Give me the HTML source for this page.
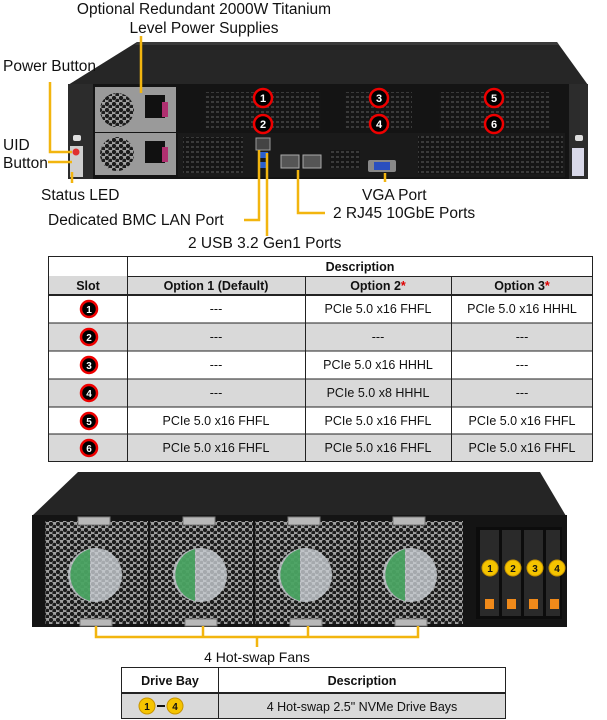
<!DOCTYPE html>
<html><head><meta charset="utf-8"><style>
html,body{margin:0;padding:0;background:#fff;}
body{width:607px;height:720px;position:relative;overflow:hidden;font-family:"Liberation Sans",Arial,sans-serif;}
svg{position:absolute;left:0;top:0;}
</style></head><body>
<svg width="607" height="720" viewBox="0 0 607 720" font-family="Liberation Sans, Arial, sans-serif">
<defs>
<pattern id="mesh" width="7" height="6" patternUnits="userSpaceOnUse">
<rect width="7" height="6" fill="#a0a0a0"/>
<circle cx="2" cy="2" r="2.2" fill="#1c1c1c"/>
<circle cx="5.5" cy="5" r="2.2" fill="#1c1c1c"/>
</pattern>
<pattern id="grill" width="5" height="5" patternUnits="userSpaceOnUse">
<rect width="5" height="5" fill="#151515"/>
<rect x="1" y="1" width="3" height="2" fill="#3a3a3a"/>
</pattern>
</defs>

<!-- TOP TITLE -->
<text x="204" y="14" font-size="15.5" text-anchor="middle" fill="#111">Optional Redundant 2000W Titanium</text>
<text x="204" y="33" font-size="15.5" text-anchor="middle" fill="#111">Level Power Supplies</text>

<!-- top chassis -->
<polygon points="137,42 557,42 588,85 68,85" fill="#262626"/>
<polygon points="137,42 557,42 559,45 135,45" fill="#3a3a3a"/>
<rect x="68" y="84" width="520" height="95" fill="#141414"/>
<rect x="68" y="84" width="25" height="95" fill="#2c2c2c"/>
<rect x="569" y="84" width="19" height="95" fill="#2c2c2c"/>
<rect x="73" y="135" width="8" height="6" rx="2" fill="#ddd"/>
<rect x="575" y="135" width="8" height="6" rx="2" fill="#ddd"/>
<rect x="70" y="146" width="13" height="31" fill="#cfcfcf"/>
<circle cx="76" cy="152" r="3.5" fill="#e03030"/>
<rect x="572" y="148" width="12" height="28" fill="#d8d8e8"/>
<!-- PSUs -->
<rect x="95" y="87" width="81" height="45" fill="#9a9a9a"/>
<rect x="95" y="133" width="81" height="42" fill="#9a9a9a"/>
<circle cx="117" cy="110" r="17" fill="url(#mesh)"/>
<circle cx="117" cy="154" r="17" fill="url(#mesh)"/>
<rect x="145" y="95" width="20" height="23" fill="#111"/>
<rect x="145" y="141" width="20" height="22" fill="#111"/>
<rect x="162" y="102" width="6" height="15" fill="#b03070"/>
<rect x="162" y="147" width="6" height="15" fill="#b03070"/>
<!-- slot brackets -->
<rect x="205" y="92" width="116" height="38" fill="url(#grill)"/>
<rect x="345" y="92" width="67" height="38" fill="url(#grill)"/>
<rect x="439" y="92" width="111" height="38" fill="url(#grill)"/>
<!-- io panel -->
<rect x="178" y="133" width="387" height="44" fill="#1a1a1a"/>
<rect x="183" y="137" width="60" height="36" fill="url(#grill)"/>
<rect x="418" y="136" width="145" height="38" fill="url(#grill)"/>
<rect x="330" y="150" width="30" height="18" fill="url(#grill)"/>
<rect x="256" y="138" width="14" height="12" fill="#444" stroke="#999"/>
<rect x="258" y="152" width="10" height="6" fill="#2a5fcf"/>
<rect x="258" y="162" width="10" height="6" fill="#2a5fcf"/>
<rect x="281" y="155" width="18" height="13" fill="#555" stroke="#aaa"/>
<rect x="303" y="155" width="18" height="13" fill="#555" stroke="#aaa"/>
<rect x="368" y="160" width="28" height="12" rx="2" fill="#888"/>
<rect x="374" y="162" width="16" height="8" fill="#2a4fbf"/>
<!-- red circles -->
<g font-size="11" font-weight="bold" fill="#fff" text-anchor="middle">
<circle cx="263" cy="98" r="9" fill="#000" stroke="#e00" stroke-width="2.5"/><text x="263" y="102">1</text>
<circle cx="263" cy="124" r="9" fill="#000" stroke="#e00" stroke-width="2.5"/><text x="263" y="128">2</text>
<circle cx="379" cy="98" r="9" fill="#000" stroke="#e00" stroke-width="2.5"/><text x="379" y="102">3</text>
<circle cx="379" cy="124" r="9" fill="#000" stroke="#e00" stroke-width="2.5"/><text x="379" y="128">4</text>
<circle cx="494" cy="98" r="9" fill="#000" stroke="#e00" stroke-width="2.5"/><text x="494" y="102">5</text>
<circle cx="494" cy="124" r="9" fill="#000" stroke="#e00" stroke-width="2.5"/><text x="494" y="128">6</text>
</g>
<!-- leaders -->
<g stroke="#f2b50f" stroke-width="2.5" fill="none">
<polyline points="141,36 141,93"/>
<polyline points="50,82 50,152 72,152"/>
<polyline points="48,162 72,162"/>
<polyline points="72,172 72,183"/>
<polyline points="244,220 259,220 259,150"/>
<polyline points="267,153 267,236"/>
<polyline points="298,170 298,213 325,213"/>
<polyline points="385,173 385,182"/>
</g>
<g font-size="15.5" fill="#111">
<text x="3" y="71">Power Button</text>
<text x="3" y="150">UID</text>
<text x="3" y="168">Button</text>
<text x="41" y="200">Status LED</text>
<text x="48" y="225">Dedicated BMC LAN Port</text>
<text x="188" y="248">2 USB 3.2 Gen1 Ports</text>
<text x="362" y="200">VGA Port</text>
<text x="333" y="218">2 RJ45 10GbE Ports</text>
</g>

<!-- slot table -->
<g font-size="12.5" fill="#111">
<rect x="48" y="276" width="545" height="19" fill="#d9d9d9"/>
<rect x="48" y="323" width="545" height="28" fill="#d9d9d9"/>
<rect x="48" y="379" width="545" height="28" fill="#d9d9d9"/>
<rect x="48" y="434" width="545" height="28" fill="#d9d9d9"/>
<g stroke="#222" stroke-width="1" fill="none">
<rect x="48.5" y="256.5" width="544" height="205"/>
<line x1="127.5" y1="256" x2="127.5" y2="462"/>
<line x1="305.5" y1="276" x2="305.5" y2="462"/>
<line x1="451.5" y1="276" x2="451.5" y2="462"/>
<line x1="127" y1="276.5" x2="593" y2="276.5"/>
<line x1="48" y1="295" x2="593" y2="295" stroke-width="2"/>
<line x1="48" y1="323" x2="593" y2="323"/>
<line x1="48" y1="351" x2="593" y2="351"/>
<line x1="48" y1="379" x2="593" y2="379"/>
<line x1="48" y1="407" x2="593" y2="407"/>
<line x1="48" y1="434" x2="593" y2="434"/>
</g>
<g font-weight="bold" text-anchor="middle">
<text x="360" y="271">Description</text>
<text x="88" y="290">Slot</text>
<text x="216" y="290">Option 1 (Default)</text>
<text x="378" y="290">Option 2<tspan fill="#d00">*</tspan></text>
<text x="522" y="290">Option 3<tspan fill="#d00">*</tspan></text>
</g>
<g text-anchor="middle">
<text x="216" y="313">---</text><text x="378" y="313">PCIe 5.0 x16 FHFL</text><text x="522" y="313">PCIe 5.0 x16 HHHL</text>
<text x="216" y="341">---</text><text x="378" y="341">---</text><text x="522" y="341">---</text>
<text x="216" y="369">---</text><text x="378" y="369">PCIe 5.0 x16 HHHL</text><text x="522" y="369">---</text>
<text x="216" y="397">---</text><text x="378" y="397">PCIe 5.0 x8 HHHL</text><text x="522" y="397">---</text>
<text x="216" y="425">PCIe 5.0 x16 FHFL</text><text x="378" y="425">PCIe 5.0 x16 FHFL</text><text x="522" y="425">PCIe 5.0 x16 FHFL</text>
<text x="216" y="452">PCIe 5.0 x16 FHFL</text><text x="378" y="452">PCIe 5.0 x16 FHFL</text><text x="522" y="452">PCIe 5.0 x16 FHFL</text>
</g>
<g font-size="10" font-weight="bold" fill="#fff" text-anchor="middle">
<circle cx="89" cy="309" r="8" fill="#000" stroke="#e00" stroke-width="2.5"/><text x="89" y="313">1</text>
<circle cx="89" cy="337" r="8" fill="#000" stroke="#e00" stroke-width="2.5"/><text x="89" y="341">2</text>
<circle cx="89" cy="365" r="8" fill="#000" stroke="#e00" stroke-width="2.5"/><text x="89" y="369">3</text>
<circle cx="89" cy="393" r="8" fill="#000" stroke="#e00" stroke-width="2.5"/><text x="89" y="397">4</text>
<circle cx="89" cy="421" r="8" fill="#000" stroke="#e00" stroke-width="2.5"/><text x="89" y="425">5</text>
<circle cx="89" cy="448" r="8" fill="#000" stroke="#e00" stroke-width="2.5"/><text x="89" y="452">6</text>
</g>
</g>

<!-- bottom chassis -->
<polygon points="78,472 540,472 566,516 32,516" fill="#252525"/>
<rect x="32" y="515" width="535" height="112" fill="#141414"/>
<g>
<rect x="45" y="521" width="103" height="103" fill="url(#mesh)"/>
<rect x="150" y="521" width="103" height="103" fill="url(#mesh)"/>
<rect x="255" y="521" width="103" height="103" fill="url(#mesh)"/>
<rect x="360" y="521" width="103" height="103" fill="url(#mesh)"/>
</g>
<g>
<circle cx="95" cy="575" r="27" fill="#c8cdd2" opacity="0.8"/>
<path d="M90,549 A27,27 0 0 0 90,601 Z" fill="#2a9a45" opacity="0.75"/>
<circle cx="200" cy="575" r="27" fill="#c8cdd2" opacity="0.8"/>
<path d="M195,549 A27,27 0 0 0 195,601 Z" fill="#2a9a45" opacity="0.75"/>
<circle cx="305" cy="575" r="27" fill="#c8cdd2" opacity="0.8"/>
<path d="M300,549 A27,27 0 0 0 300,601 Z" fill="#2a9a45" opacity="0.75"/>
<circle cx="410" cy="575" r="27" fill="#c8cdd2" opacity="0.8"/>
<path d="M405,549 A27,27 0 0 0 405,601 Z" fill="#2a9a45" opacity="0.75"/>
</g>
<g fill="#b8b8b8" stroke="#777">
<rect x="78" y="517" width="32" height="8"/><rect x="183" y="517" width="32" height="8"/><rect x="288" y="517" width="32" height="8"/><rect x="393" y="517" width="32" height="8"/>
<rect x="80" y="619" width="32" height="7"/><rect x="185" y="619" width="32" height="7"/><rect x="290" y="619" width="32" height="7"/><rect x="395" y="619" width="32" height="7"/>
</g>
<rect x="476" y="527" width="86" height="92" fill="#0c0c0c"/>
<g fill="#2a2a2a">
<rect x="480" y="530" width="19" height="86"/><rect x="502" y="530" width="19" height="86"/><rect x="524" y="530" width="19" height="86"/><rect x="546" y="530" width="14" height="86"/>
</g>
<g fill="#f08a1a"><rect x="485" y="599" width="9" height="10"/><rect x="507" y="599" width="9" height="10"/><rect x="529" y="599" width="9" height="10"/><rect x="550" y="599" width="9" height="10"/></g>
<g font-size="10" font-weight="bold" fill="#111" text-anchor="middle">
<circle cx="490" cy="568" r="8" fill="#f5c400" stroke="#c89400"/><text x="490" y="572">1</text>
<circle cx="513" cy="568" r="8" fill="#f5c400" stroke="#c89400"/><text x="513" y="572">2</text>
<circle cx="535" cy="568" r="8" fill="#f5c400" stroke="#c89400"/><text x="535" y="572">3</text>
<circle cx="557" cy="568" r="8" fill="#f5c400" stroke="#c89400"/><text x="557" y="572">4</text>
</g>
<g stroke="#f2b50f" stroke-width="2.5" fill="none">
<polyline points="96,626 96,637 418,637 418,626"/>
<line x1="203" y1="626" x2="203" y2="637"/>
<line x1="308" y1="626" x2="308" y2="637"/>
<line x1="257" y1="637" x2="257" y2="647"/>
</g>
<text x="257" y="662" font-size="14" text-anchor="middle" fill="#111">4 Hot-swap Fans</text>

<!-- drive table -->
<rect x="121" y="694" width="385" height="24" fill="#d9d9d9"/>
<g stroke="#222" fill="none">
<rect x="121.5" y="667.5" width="384" height="51"/>
<line x1="218.5" y1="667" x2="218.5" y2="719"/>
<line x1="121" y1="693" x2="506" y2="693" stroke-width="2"/>
</g>
<g font-size="12.5" fill="#111" text-anchor="middle">
<text x="170" y="685" font-weight="bold">Drive Bay</text>
<text x="362" y="685" font-weight="bold">Description</text>
<text x="362" y="711">4 Hot-swap 2.5" NVMe Drive Bays</text>
</g>
<line x1="157" y1="706" x2="165" y2="706" stroke="#111" stroke-width="2"/>
<g font-size="10" font-weight="bold" fill="#111" text-anchor="middle">
<circle cx="147" cy="706" r="8" fill="#f5c400" stroke="#c89400"/><text x="147" y="710">1</text>
<circle cx="175" cy="706" r="8" fill="#f5c400" stroke="#c89400"/><text x="175" y="710">4</text>
</g>
</svg>
</body></html>
